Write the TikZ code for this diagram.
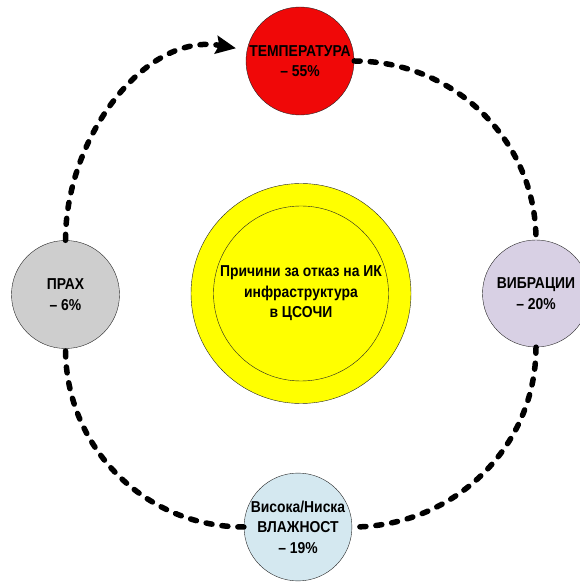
\documentclass[tikz,border=0pt]{standalone}
\usepackage{fontspec}
\setmainfont[FakeStretch=0.88]{Liberation Sans}
\usetikzlibrary{arrows.meta}

\definecolor{tempred}{RGB}{240,8,8}
\definecolor{dustgray}{RGB}{206,206,206}
\definecolor{vibviolet}{RGB}{216,208,228}
\definecolor{humblue}{RGB}{212,232,240}
\definecolor{coreyellow}{RGB}{255,255,0}

\begin{document}
\begin{tikzpicture}[
            x = 1pt, y = 1pt, % one unit = one pixel
            > = {Stealth[length=20pt, width=18pt, inset=3pt]}, % arrow head style
            font = \fontsize{15.8}{20.5}\selectfont\bfseries,
            semithick % line style
        ]

        \tikzstyle{cause}=[
            circle,
            draw = black!85,
            thin,
            inner sep = 0pt,
            minimum size = 108pt,
            align = center
        ]

        \tikzstyle{ring}=[
            line width = 5.5pt,
            line cap = round,
            dash pattern = on 6pt off 10pt
        ]

        \useasboundingbox (0,0) rectangle (579,583);

        \node[cause, fill = coreyellow, minimum size = 220pt] (core) at (301,289.5) {};
        \node[cause, minimum size = 175pt] (inner) at (core) {Причини за отказ на ИК\\инфраструктура\\в ЦСОЧИ};

        \node[cause, fill = tempred] (temp) at (300,522) {ТЕМПЕРАТУРА\\– 55\%};
        \node[cause, fill = vibviolet, minimum size = 107pt] (vib) at (536,289.5) {ВИБРАЦИИ\\– 20\%};
        \node[cause, fill = humblue, minimum size = 105pt] (hum) at (298,56) {Висока/Ниска\\ВЛАЖНОСТ\\– 19\%};
        \node[cause, fill = dustgray] (dust) at (65.5,288.5) {ПРАХ\\– 6\%};

        \draw[ring] (temp.east) to[out=0, in=90] (vib.north);
        \draw[ring] (vib.south) to[out=-90, in=0] (hum.east);
        \draw[ring] (hum.west) to[out=180, in=-90] (dust.south);
        \draw[ring, ->, shorten > = 10pt] (dust.north) to[out=90, in=170] ([yshift=11pt]temp.west);

\end{tikzpicture}
\end{document}
